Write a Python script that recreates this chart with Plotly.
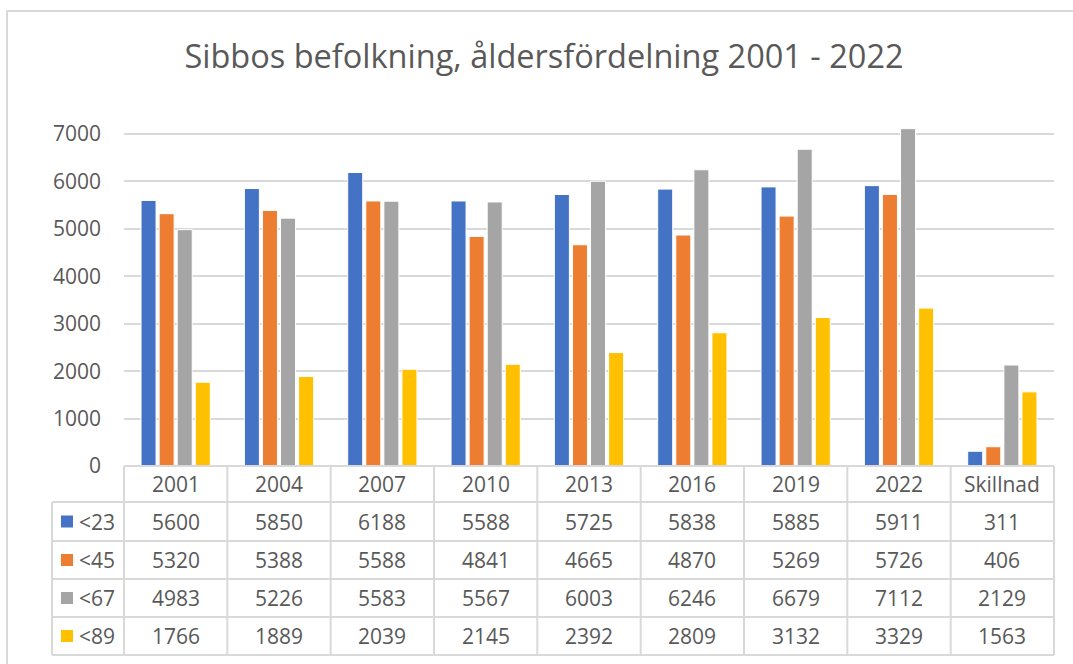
import plotly.graph_objects as go

# data
categories = ["2001", "2004", "2007", "2010", "2013", "2016", "2019", "2022", "Skillnad"]
series_names = ["<23", "<45", "<67", "<89"]
v23 = [5600, 5850, 6188, 5588, 5725, 5838, 5885, 5911, 311]
v45 = [5320, 5388, 5588, 4841, 4665, 4870, 5269, 5726, 406]
v67 = [4983, 5226, 5583, 5567, 6003, 6246, 6679, 7112, 2129]
v89 = [1766, 1889, 2039, 2145, 2392, 2809, 3132, 3329, 1563]
colors = ["#4472c4", "#ed7d31", "#a5a5a5", "#ffc000"]

W, H = 1073, 664
FONT = "Open Sans"
TXT = "#595959"
GRID = "#d9d9d9"
FS = 21

# pixel layout of plot + table
px_left, px_right = 124, 1054
px_zero, px_7000 = 466, 134
px_top = px_zero - (px_zero - px_7000) * 7200 / 7000
leg_left = 52
row_lines = [466, 502, 541, 579, 617, 655]


def xp(px):
    return px / W


def yp(py):
    return 1 - py / H


fig = go.Figure()
for name, vals, col in zip(series_names, [v23, v45, v67, v89], colors):
    fig.add_trace(go.Bar(
        x=categories, y=vals, name=name,
        marker=dict(color=col, line=dict(color="white", width=1)),
    ))

shapes = []
annotations = []

# outer chart frame (right and bottom edges fall outside the window)
shapes.append(dict(type="rect", xref="paper", yref="paper",
                   x0=xp(7), x1=xp(1085), y0=yp(11), y1=yp(680),
                   line=dict(color="#d9d9d9", width=2), fillcolor="rgba(0,0,0,0)", layer="below"))

# table lines
ncat = len(categories)
colw = (px_right - px_left) / ncat
for i, ry in enumerate(row_lines):
    x0 = px_left if i == 0 else leg_left
    shapes.append(dict(type="line", xref="paper", yref="paper",
                       x0=xp(x0), x1=xp(px_right), y0=yp(ry), y1=yp(ry),
                       line=dict(color=GRID, width=2)))
shapes.append(dict(type="line", xref="paper", yref="paper",
                   x0=xp(leg_left), x1=xp(leg_left), y0=yp(row_lines[1]), y1=yp(row_lines[-1]),
                   line=dict(color=GRID, width=2)))
for k in range(ncat + 1):
    xx = px_left + k * colw
    shapes.append(dict(type="line", xref="paper", yref="paper",
                       x0=xp(xx), x1=xp(xx), y0=yp(row_lines[0]), y1=yp(row_lines[-1]),
                       line=dict(color=GRID, width=2)))

# header
hy = (row_lines[0] + row_lines[1]) / 2
for k, c in enumerate(categories):
    annotations.append(dict(xref="paper", yref="paper", x=xp(px_left + (k + 0.5) * colw), y=yp(hy),
                            text=c, showarrow=False, xanchor="center", yanchor="middle",
                            font=dict(family=FONT, size=FS, color=TXT)))

# rows
for r, (name, vals, col) in enumerate(zip(series_names, [v23, v45, v67, v89], colors)):
    cy = (row_lines[r + 1] + row_lines[r + 2]) / 2
    shapes.append(dict(type="rect", xref="paper", yref="paper",
                       x0=xp(61), x1=xp(73), y0=yp(cy - 6), y1=yp(cy + 6),
                       line=dict(width=0), fillcolor=col))
    annotations.append(dict(xref="paper", yref="paper", x=xp(77), y=yp(cy),
                            text=name, showarrow=False, xanchor="left", yanchor="middle",
                            font=dict(family=FONT, size=FS, color=TXT)))
    for k, v in enumerate(vals):
        annotations.append(dict(xref="paper", yref="paper", x=xp(px_left + (k + 0.5) * colw), y=yp(cy),
                                text=str(v), showarrow=False, xanchor="center", yanchor="middle",
                                font=dict(family=FONT, size=FS, color=TXT)))

fig.update_layout(
    width=W, height=H,
    margin=dict(l=0, r=0, t=0, b=0, autoexpand=False),
    paper_bgcolor="white", plot_bgcolor="white",
    barmode="group", bargap=0.30, bargroupgap=0.17,
    showlegend=False,
    title=dict(text="Sibbos befolkning, åldersfördelning 2001 - 2022",
               x=xp(544), xanchor="center", y=yp(57), yanchor="middle", automargin=False,
               font=dict(family=FONT, size=32.5, color=TXT)),
    xaxis=dict(domain=[xp(px_left), xp(px_right)], range=[-0.5, ncat - 0.5],
               visible=False, automargin=False),
    yaxis=dict(domain=[yp(px_zero), yp(px_top)], range=[0, 7200],
               tickvals=[0, 1000, 2000, 3000, 4000, 5000, 6000, 7000],
               showgrid=True, gridcolor=GRID, gridwidth=2, zeroline=False,
               showline=False, ticklabelstandoff=22, automargin=False,
               tickfont=dict(family=FONT, size=FS, color=TXT)),
    shapes=shapes,
    annotations=annotations,
)

fig.write_html(
    "out.html",
    config={"displayModeBar": False},
    post_script=(
        "document.body.style.margin='0';"
        "document.documentElement.style.overflow='hidden';"
    ),
)
